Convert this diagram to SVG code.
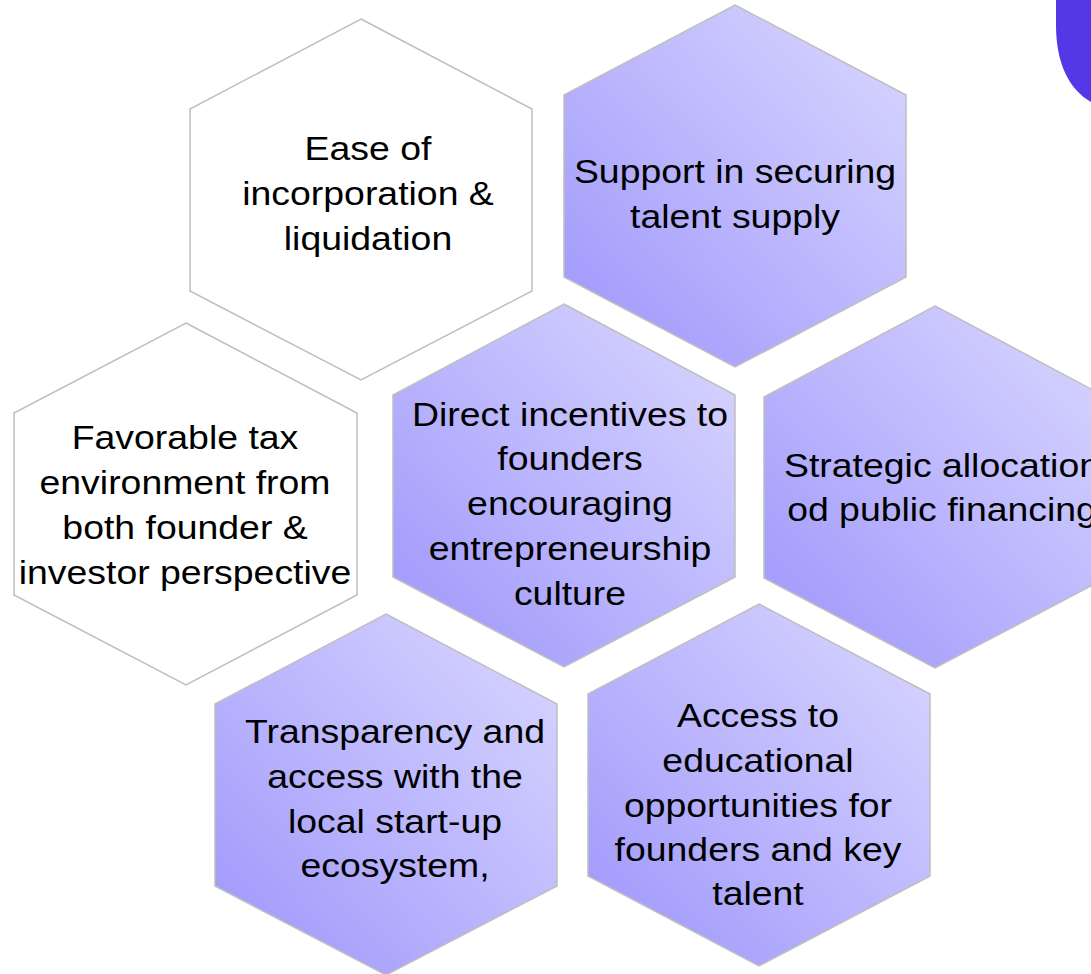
<svg xmlns="http://www.w3.org/2000/svg" width="1091" height="974" viewBox="0 0 1091 974">
<defs>
<linearGradient id="pg" x1="0" y1="1" x2="1" y2="0">
<stop offset="0" stop-color="#9c94fb"/>
<stop offset="0.5" stop-color="#bcb7fd"/>
<stop offset="1" stop-color="#dad8ff"/>
</linearGradient>
<style>
.hw{fill:#ffffff;stroke:#bfbfbf;stroke-width:1.5}
.hp{fill:url(#pg);stroke:#bfbfbf;stroke-width:1.5}
.t{font-family:"Liberation Sans",Arial,sans-serif;font-size:34px;fill:#000;text-anchor:middle}
</style>
</defs>
<rect width="1091" height="974" fill="#ffffff"/>
<path d="M1056,0 L1056,25 C1056,65 1070,90 1091,102 L1091,0 Z" fill="#5437e6"/>
<g id="connectors"></g>
<g id="n1">
<polygon class="hw" points="361,19 532,109 532,291 361,380 190,291 190,109"/>
<g transform="translate(368,0) scale(1.1,1)"><text class="t" x="0" y="160">Ease of</text><text class="t" x="0" y="205">incorporation &amp;</text><text class="t" x="0" y="250">liquidation</text></g>
</g>
<g id="n2">
<polygon class="hp" points="735,5 906,95 906,277 735,367 564,277 564,95"/>
<g transform="translate(735,0) scale(1.1,1)"><text class="t" x="0" y="183">Support in securing</text><text class="t" x="0" y="228">talent supply</text></g>
</g>
<g id="n3">
<polygon class="hw" points="186,323 357,413 357,595 186,685 14,595 14,413"/>
<g transform="translate(185,0) scale(1.1,1)"><text class="t" x="0" y="449">Favorable tax</text><text class="t" x="0" y="494">environment from</text><text class="t" x="0" y="539">both founder &amp;</text><text class="t" x="0" y="584">investor perspective</text></g>
</g>
<g id="n4">
<polygon class="hp" points="564,304 735,395 735,577 564,667 393,577 393,395"/>
<g transform="translate(570,0) scale(1.1,1)"><text class="t" x="0" y="426">Direct incentives to</text><text class="t" x="0" y="470">founders</text><text class="t" x="0" y="515">encouraging</text><text class="t" x="0" y="560">entrepreneurship</text><text class="t" x="0" y="605">culture</text></g>
</g>
<g id="n5">
<polygon class="hp" points="935,306 1106,397 1106,578 935,668 764,578 764,397"/>
<g transform="translate(942,0) scale(1.1,1)"><text class="t" x="0" y="477">Strategic allocation</text><text class="t" x="0" y="521">od public financing</text></g>
</g>
<g id="n6">
<polygon class="hp" points="386,614 557,704 557,886 386,975 215,886 215,704"/>
<g transform="translate(395,0) scale(1.1,1)"><text class="t" x="0" y="743">Transparency and</text><text class="t" x="0" y="788">access with the</text><text class="t" x="0" y="833">local start-up</text><text class="t" x="0" y="877">ecosystem,</text></g>
</g>
<g id="n7">
<polygon class="hp" points="759,604 930,694 930,876 759,966 588,876 588,694"/>
<g transform="translate(758,0) scale(1.1,1)"><text class="t" x="0" y="727">Access to</text><text class="t" x="0" y="772">educational</text><text class="t" x="0" y="817">opportunities for</text><text class="t" x="0" y="861">founders and key</text><text class="t" x="0" y="905">talent</text></g>
</g>
</svg>
